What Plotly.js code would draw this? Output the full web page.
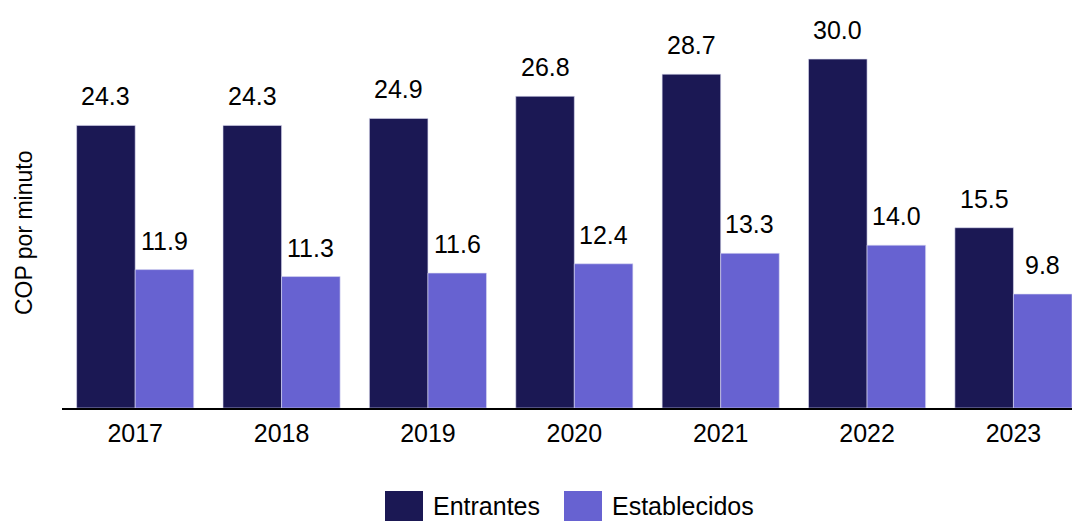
<!DOCTYPE html>
<html><head><meta charset="utf-8">
<script src="https://cdn.plot.ly/plotly-3.0.1.min.js"></script>
<style>html,body{margin:0;padding:0;background:#fff}#chart{width:1072px;height:521px}</style>
</head><body><div id="chart"></div>
<script>
const years = ["2017","2018","2019","2020","2021","2022","2023"];
const entrantes = [24.3, 24.3, 24.9, 26.8, 28.7, 30.0, 15.5];
const establecidos = [11.9, 11.3, 11.6, 12.4, 13.3, 14.0, 9.8];
const seriesNames = ["Entrantes", "Establecidos"];
const seriesColors = ["#1b1854", "#6762d1"];
const yTitle = "COP por minuto";

const font = "Liberation Sans, Arial, sans-serif";
const traces = [entrantes, establecidos].map((vals, i) => ({
  type: "bar", x: years, y: vals, name: seriesNames[i],
  marker: {color: seriesColors[i], line: {color: "#dcdcf2", width: 0.6}},
  showlegend: false, hoverinfo: "none"
}));

const annotations = [];
[entrantes, establecidos].forEach((vals, i) => {
  vals.forEach((v, j) => {
    annotations.push({
      x: j + (i === 0 ? -0.2 : 0.2), y: v, xref: "x", yref: "y",
      text: v.toFixed(1), showarrow: false, yshift: 29,
      font: {family: font, size: 25, color: "#000"}
    });
  });
});
annotations.push({
  xref: "paper", yref: "paper", x: -0.037, y: 0.428, xanchor: "center", yanchor: "middle",
  text: yTitle, textangle: -90, showarrow: false,
  font: {family: font, size: 23, color: "#000"}
});
// custom legend
const shapes = [];
const legX = [385, 564];
seriesNames.forEach((n, i) => {
  shapes.push({type: "rect", xref: "paper", yref: "paper",
    x0: (legX[i] - 62) / 1010, x1: (legX[i] + 38 - 62) / 1010,
    y0: -(521 - 408) / 408, y1: -(491 - 408) / 408,
    fillcolor: seriesColors[i], line: {width: 0}});
  annotations.push({xref: "paper", yref: "paper",
    x: (legX[i] + 47 - 62) / 1010, y: -(521 - 408) / 408,
    xanchor: "left", yanchor: "bottom", borderpad: 0, text: n, showarrow: false,
    font: {family: font, size: 25, color: "#000"}});
});

const layout = {
  width: 1072, height: 521,
  margin: {l: 62, r: 0, t: 0, b: 113},
  paper_bgcolor: "#fff", plot_bgcolor: "#fff",
  barmode: "group", bargap: 0.2, bargroupgap: 0,
  xaxis: {type: "category", range: [-0.5, 6.4], showgrid: false, zeroline: false,
    showline: true, linecolor: "#000", linewidth: 2, ticks: "", ticklabelstandoff: 2,
    tickfont: {family: font, size: 25, color: "#000"}},
  yaxis: {range: [0, 35.08], showgrid: false, zeroline: false, showline: false,
    showticklabels: false, ticks: ""},
  annotations: annotations, shapes: shapes, showlegend: false
};
Plotly.newPlot("chart", traces, layout, {displayModeBar: false, staticPlot: true});
</script></body></html>
